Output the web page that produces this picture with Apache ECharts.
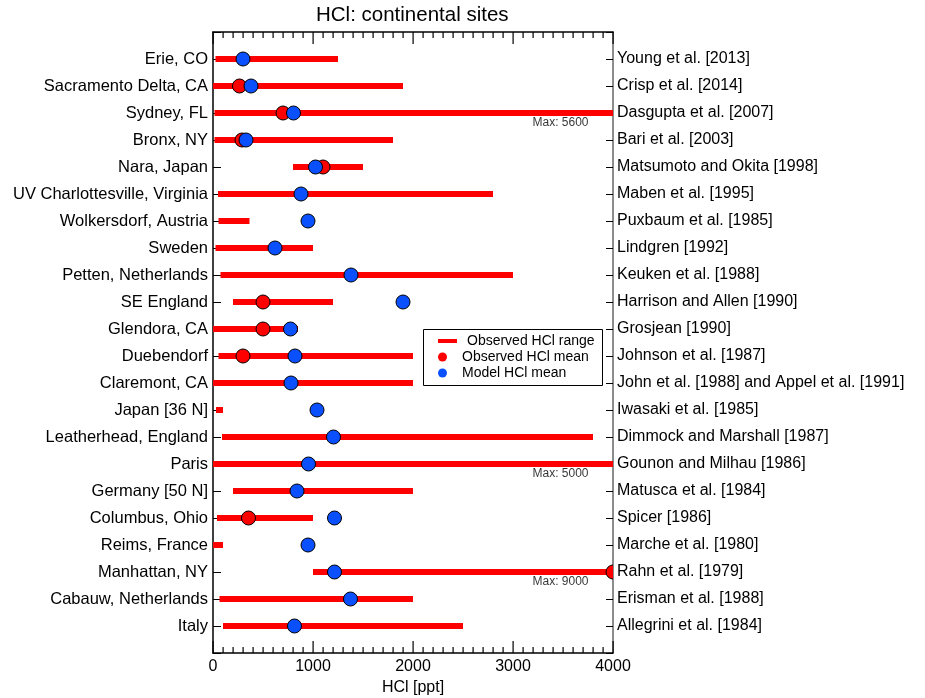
<!DOCTYPE html>
<html>
<head>
<meta charset="utf-8">
<title>HCl: continental sites</title>
<script src="https://cdn.jsdelivr.net/npm/echarts@6/dist/echarts.min.js"></script>
<style>
  html, body { margin: 0; padding: 0; background: #fff; }
  #chart { width: 925px; height: 698px; }
</style>
</head>
<body>
<div id="chart"></div>
<script>
// 站点名称（从上到下）
const sites = [
  "Erie, CO", "Sacramento Delta, CA", "Sydney, FL", "Bronx, NY", "Nara, Japan",
  "UV Charlottesville, Virginia", "Wolkersdorf, Austria", "Sweden", "Petten, Netherlands",
  "SE England", "Glendora, CA", "Duebendorf", "Claremont, CA", "Japan [36 N]",
  "Leatherhead, England", "Paris", "Germany [50 N]", "Columbus, Ohio", "Reims, France",
  "Manhattan, NY", "Cabauw, Netherlands", "Italy"
];
// 文献来源
const refs = [
  "Young et al. [2013]", "Crisp et al. [2014]", "Dasgupta et al. [2007]", "Bari et al. [2003]",
  "Matsumoto and Okita [1998]", "Maben et al. [1995]", "Puxbaum et al. [1985]", "Lindgren [1992]",
  "Keuken et al. [1988]", "Harrison and Allen [1990]", "Grosjean [1990]", "Johnson et al. [1987]",
  "John et al. [1988] and Appel et al. [1991]", "Iwasaki et al. [1985]", "Dimmock and Marshall [1987]",
  "Gounon and Milhau [1986]", "Matusca et al. [1984]", "Spicer [1986]", "Marche et al. [1980]",
  "Rahn et al. [1979]", "Erisman et al. [1988]", "Allegrini et al. [1984]"
];
// 观测范围 (ppt)
const obsMin = [25, 0, 15, 15, 800, 50, 55, 25, 75, 200, 0, 55, 0, 30, 90, 0, 200, 40, 0, 1000, 65, 100];
const obsMax = [1250, 1900, 5600, 1800, 1500, 2800, 365, 1000, 3000, 1200, 850, 2000, 2000, 100, 3800, 5000, 2000, 1000, 100, 9000, 2000, 2500];
// 观测均值，null 表示没有
const obsMean = [null, 265, 700, 290, 1100, null, null, null, null, 500, 500, 300, null, null, null, null, null, 355, null, 4000, null, null];
// 模式均值
const modelMean = [300, 380, 805, 330, 1025, 880, 950, 620, 1380, 1900, 775, 820, 780, 1040, 1205, 955, 840, 1215, 950, 1215, 1375, 815];
// x 轴刻度
const xMajorTicks = [0, 1000, 2000, 3000, 4000];
const xMinorStep = 100;

const X_MAX = 4000;
const Y_MAX = sites.length + 1;
const FONT = "'Liberation Sans', Arial, Helvetica, sans-serif";
const RED = "#ff0000";
const BLUE = "#0a50ff";

const myChart = echarts.init(document.getElementById("chart"));

const rangeData = sites.map((s, i) => [obsMin[i], obsMax[i], i + 1]);
const obsData = [];
const modelData = [];
sites.forEach((s, i) => {
  if (obsMean[i] != null) obsData.push([obsMean[i], i + 1]);
  modelData.push([modelMean[i], i + 1]);
});
const noteData = [];
sites.forEach((s, i) => {
  if (obsMax[i] > X_MAX) noteData.push({ value: [X_MAX, i + 1], maxVal: obsMax[i] });
});
const tickData = [];
for (let v = 0; v <= X_MAX; v += xMinorStep) {
  tickData.push([v, 1, xMajorTicks.indexOf(v) >= 0 ? 1 : 0]);
}

function renderCircle(color) {
  return function (params, api) {
    const p = api.coord([api.value(0), api.value(1)]);
    return {
      type: "circle",
      shape: { cx: p[0], cy: p[1], r: 7 },
      style: { fill: color, stroke: "#000", lineWidth: 1 }
    };
  };
}

const tickLabel = { fontFamily: FONT, fontSize: 16, color: "#000" };

myChart.setOption({
  animation: false,
  backgroundColor: "#fff",
  title: {
    text: "HCl: continental sites",
    left: 316, top: 5, padding: 0,
    textStyle: { fontFamily: FONT, fontSize: 20.5, fontWeight: "normal", color: "#000" }
  },
  grid: { left: 213, right: 312, top: 32, bottom: 45, containLabel: false, outerBoundsMode: "none" },
  legend: [
    {
      data: [{ name: "Observed HCl range", icon: "rect", itemStyle: { color: RED } }],
      left: 438, top: 334, padding: 0,
      itemWidth: 19, itemHeight: 4, itemGap: 0,
      textStyle: { fontFamily: FONT, fontSize: 14, color: "#000", padding: [0, 0, 0, 5] }
    },
    {
      orient: "vertical",
      data: [
        { name: "Observed HCl mean", icon: "circle", itemStyle: { color: RED, borderWidth: 0 } },
        { name: "Model HCl mean", icon: "circle", itemStyle: { color: BLUE, borderWidth: 0 } }
      ],
      left: 438, top: 350, padding: 0,
      itemWidth: 19, itemHeight: 9, itemGap: 2,
      textStyle: { fontFamily: FONT, fontSize: 14, color: "#000", padding: [0, 0, 0, 5] }
    }
  ],
  graphic: [
    {
      type: "rect", left: 423, top: 329, z: 0,
      shape: { width: 179, height: 56 },
      style: { fill: "#fff", stroke: "#000", lineWidth: 1 }
    }
  ],
  xAxis: [
    {
      type: "value", min: 0, max: X_MAX, interval: 1000, position: "bottom",
      name: "HCl [ppt]", nameLocation: "middle", nameGap: 26,
      nameTextStyle: { fontFamily: FONT, fontSize: 16, color: "#000" },
      axisLine: { show: true, onZero: false, lineStyle: { color: "#000", width: 1.5 } },
      axisTick: { show: false },
      axisLabel: Object.assign({ margin: 6, formatter: v => String(v) }, tickLabel),
      splitLine: { show: false }
    },
    {
      type: "value", min: 0, max: X_MAX, interval: 1000, position: "top",
      axisLine: { show: true, onZero: false, lineStyle: { color: "#000", width: 1.5 } },
      axisTick: { show: false },
      axisLabel: { show: false },
      splitLine: { show: false }
    }
  ],
  yAxis: [
    {
      type: "value", min: 0, max: Y_MAX, interval: 1, inverse: true, position: "left",
      axisLine: { show: true, onZero: false, lineStyle: { color: "#000", width: 1.5 } },
      axisTick: { show: true, inside: true, length: 8, lineStyle: { color: "#000" } },
      axisLabel: Object.assign({ margin: 5, formatter: v => sites[v - 1] || "" }, tickLabel, { fontSize: 16.5 }),
      splitLine: { show: false }
    },
    {
      type: "value", min: 0, max: Y_MAX, interval: 1, inverse: true, position: "right",
      axisLine: { show: true, onZero: false, lineStyle: { color: "#666", width: 1.5 } },
      axisTick: { show: true, inside: true, length: 7, lineStyle: { color: "#000" } },
      axisLabel: Object.assign({ margin: 4, formatter: v => refs[v - 1] || "" }, tickLabel),
      splitLine: { show: false }
    }
  ],
  series: [
    {
      // 上下两条 x 轴的内向刻度（用细矩形画）
      name: "ticks",
      type: "custom",
      silent: true,
      clip: false,
      z: 10,
      data: tickData,
      encode: { x: 0, y: 1 },
      renderItem: function (params, api) {
        const top = api.coord([api.value(0), 0]);
        const bot = api.coord([api.value(0), Y_MAX]);
        const x = Math.round(top[0]);
        const len = api.value(2) ? 12 : 6;
        return {
          type: "group",
          children: [
            { type: "rect", shape: { x: x - 0.5, y: top[1], width: 1.2, height: len }, style: { fill: "#000" } },
            { type: "rect", shape: { x: x - 0.5, y: bot[1] - len, width: 1.2, height: len }, style: { fill: "#000" } }
          ]
        };
      }
    },
    {
      name: "Observed HCl range",
      type: "custom",
      clip: true,
      data: rangeData,
      encode: { x: [0, 1], y: 2 },
      renderItem: function (params, api) {
        const a = api.coord([api.value(0), api.value(2)]);
        const b = api.coord([api.value(1), api.value(2)]);
        return {
          type: "rect",
          shape: { x: a[0], y: a[1] - 3, width: b[0] - a[0], height: 6 },
          style: { fill: RED }
        };
      }
    },
    {
      name: "Observed HCl mean",
      type: "custom",
      clip: true,
      data: obsData,
      encode: { x: 0, y: 1 },
      itemStyle: { color: RED },
      renderItem: renderCircle(RED)
    },
    {
      name: "Model HCl mean",
      type: "custom",
      clip: true,
      data: modelData,
      encode: { x: 0, y: 1 },
      itemStyle: { color: BLUE },
      renderItem: renderCircle(BLUE)
    },
    {
      name: "notes",
      type: "scatter",
      symbolSize: 1,
      itemStyle: { color: "transparent" },
      data: noteData,
      label: {
        show: true, position: "left", distance: 24, offset: [0, 10],
        fontFamily: FONT, fontSize: 12, color: "#000",
        formatter: p => "Max: " + p.data.maxVal
      },
      silent: true
    }
  ]
});
</script>
</body>
</html>
